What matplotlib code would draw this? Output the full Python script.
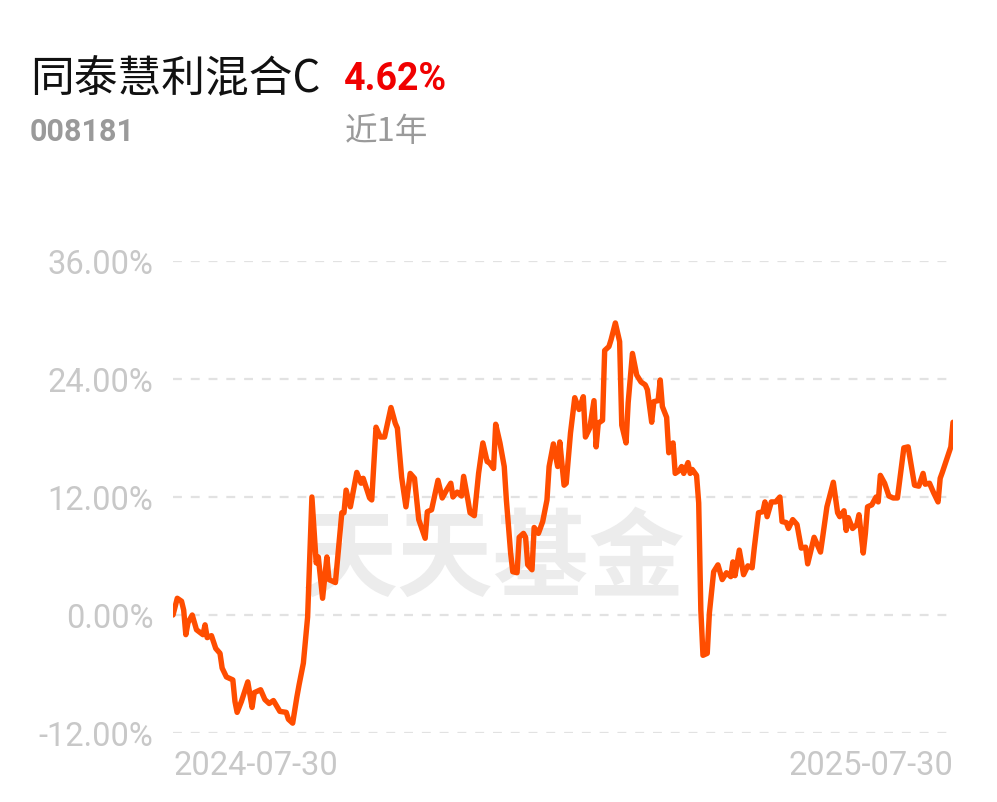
import numpy as np
import matplotlib
matplotlib.use("Agg")
import matplotlib.pyplot as plt

plt.rcParams['font.family'] = ['Noto Sans CJK SC', 'DejaVu Sans']

fund_name = "同泰慧利混合C"
fund_code = "008181"
period_return = "4.62%"
period_label = "近1年"
start_label = "2024-07-30"
end_label = "2025-07-30"

# days since 2024-07-30, cumulative return in %
days = [0, 2, 4, 5, 6, 7, 9, 11, 14, 15, 16, 18, 20, 22, 23, 25, 28, 29, 30, 32,
        35, 37, 38, 41, 43, 45, 47, 50, 53, 54, 56, 58, 59, 61, 63, 65, 67, 68, 70, 72,
        73, 76, 79, 80, 81, 83, 86, 88, 89, 92, 93, 95, 97, 99, 102, 104, 105, 107, 109, 111,
        113, 115, 118, 119, 121, 124, 126, 128, 130, 131, 133, 135, 136, 138, 139, 141, 143, 145, 147, 148,
        150, 151, 153, 155, 156, 158, 159, 161, 162, 164, 165, 166, 168, 169, 171, 173, 175, 176, 178, 180,
        181, 183, 184, 186, 188, 190, 192, 193, 195, 197, 198, 199, 201, 202, 204, 205, 207, 209, 210, 212,
        213, 215, 217, 219, 221, 222, 224, 225, 227, 228, 229, 231, 232, 234, 235, 237, 238, 239, 241, 242,
        243, 245, 246, 247, 248, 250, 251, 253, 255, 257, 259, 261, 262, 263, 265, 267, 269, 271, 272, 274,
        276, 277, 278, 280, 282, 284, 285, 287, 288, 290, 292, 294, 296, 297, 300, 303, 304, 306, 309, 311,
        312, 314, 315, 316, 318, 320, 321, 323, 324, 325, 327, 329, 330, 331, 333, 335, 337, 339, 342, 344,
        345, 347, 349, 351, 352, 354, 356, 358, 359, 360, 364, 365]
returns = [0.0, 1.7, 1.4, 0.5, -2.0, -0.8, 0.0, -1.5, -2.0, -1.0, -2.3, -2.1, -3.4, -3.9, -5.4, -6.3, -6.6, -8.8, -9.9, -8.8,
           -6.8, -9.4, -7.9, -7.6, -8.6, -9.0, -8.7, -9.8, -9.9, -10.6, -11.0, -8.3, -7.1, -4.9, -0.2, 12.0, 5.3, 5.9, 1.7, 5.9,
           3.6, 3.3, 10.4, 10.4, 12.7, 11.0, 14.5, 13.4, 13.9, 11.9, 11.7, 19.1, 18.1, 18.1, 21.1, 19.5, 19.0, 14.0, 11.0, 14.4,
           13.9, 9.7, 7.8, 10.5, 10.7, 13.7, 11.9, 12.7, 13.4, 12.0, 12.5, 12.1, 14.1, 11.7, 10.4, 10.1, 14.4, 17.5, 15.6, 15.5,
           14.9, 19.4, 17.5, 15.1, 11.7, 6.3, 4.4, 4.3, 7.9, 8.3, 7.9, 5.1, 4.6, 8.9, 8.3, 9.5, 11.7, 15.1, 17.4, 15.1,
           17.6, 13.2, 13.4, 18.5, 22.1, 20.9, 22.2, 18.1, 19.0, 21.8, 17.1, 19.5, 19.8, 26.9, 27.3, 28.0, 29.7, 27.8, 19.3, 17.5,
           21.6, 26.6, 24.4, 23.7, 23.4, 22.9, 19.6, 21.7, 21.8, 23.9, 21.2, 20.1, 16.5, 17.5, 14.4, 14.7, 15.1, 14.4, 15.5, 14.4,
           14.8, 14.2, 11.4, 0.5, -4.1, -3.9, 0.2, 4.4, 5.1, 3.6, 4.3, 3.9, 5.4, 4.0, 6.6, 4.1, 5.0, 4.8, 6.8, 10.4,
           10.5, 11.5, 10.0, 11.5, 11.5, 12.0, 9.5, 9.4, 8.8, 9.7, 9.2, 6.8, 6.9, 5.2, 7.9, 6.4, 7.9, 11.0, 13.5, 10.4,
           10.0, 10.6, 8.6, 9.9, 8.8, 9.2, 10.2, 6.3, 8.3, 11.0, 11.2, 12.0, 11.5, 14.2, 13.4, 12.1, 11.9, 11.9, 17.0, 17.1,
           15.8, 13.2, 13.1, 14.4, 13.3, 13.4, 12.4, 11.5, 13.9, 14.5, 17.1, 19.6]
y_ticks = [-12, 0, 12, 24, 36]

W, H = 997, 802
fig = plt.figure(figsize=(W / 100, H / 100), dpi=100)
ax = fig.add_axes([173 / W, 1 - 733 / H, (953 - 173) / W, (733 - 261) / H])

ax.plot(days, returns, color='#ff4d00', lw=3.9, solid_joinstyle='round', solid_capstyle='round', zorder=3)

ax.set_xlim(0, 365)
ax.set_ylim(-12, 36)
ax.set_yticks(y_ticks)
ax.set_yticklabels([f"{t:.2f}%" for t in y_ticks], family='Roboto', fontsize=23.5, color='#c8c8c8')
for t in y_ticks:
    ax.axhline(t, color='#e2e2e2', lw=1.6, ls=(0, (4, 4)), zorder=1)
ax.set_xticks([0, 365])
ax.set_xticklabels([start_label, end_label], family='Roboto', fontsize=23.5, color='#c8c8c8')
xl = ax.get_xticklabels()
xl[0].set_ha('left')
xl[1].set_ha('right')
ax.tick_params(length=0, axis='y', pad=14)
ax.tick_params(length=0, axis='x', pad=12)
for s in ax.spines.values():
    s.set_visible(False)

# watermark
ax.text(0.41, 0.365, "天天基金", transform=ax.transAxes, ha='center', va='center',
        fontsize=69, fontweight='bold', color='#ececec', zorder=0)

fig.text(30 / W, 1 - 79 / H, fund_name, fontsize=31.5, color='#111111', va='center', ha='left')
fig.text(344 / W, 1 - 79 / H, period_return, family=['Roboto', 'DejaVu Sans'], fontsize=27,
         fontweight='bold', color='#f00000', va='center', ha='left')
fig.text(30 / W, 1 - 132 / H, fund_code, family=['Roboto', 'DejaVu Sans'], fontsize=22,
         fontweight='bold', color='#9a9a9a', va='center', ha='left')
fig.text(345 / W, 1 - 132 / H, period_label, fontsize=23.5, color='#9a9a9a', va='center', ha='left')

fig.savefig("out.png", dpi=100, facecolor='white')
